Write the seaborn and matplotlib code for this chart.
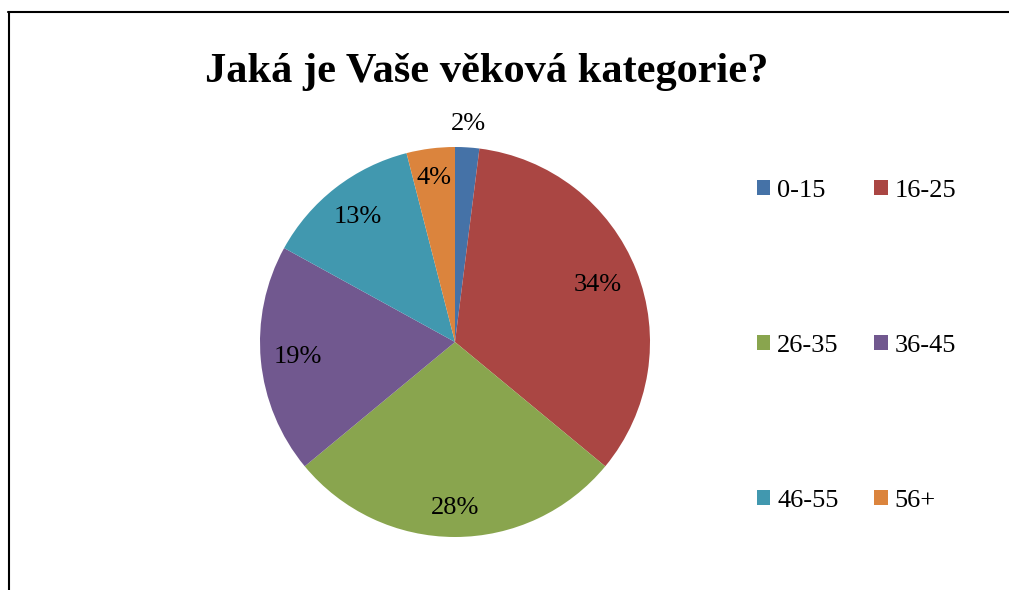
import matplotlib
matplotlib.use("Agg")
import matplotlib.pyplot as plt
from matplotlib.lines import Line2D
from matplotlib.patches import Patch
import seaborn as sns
import numpy as np

categories = ["0-15", "16-25", "26-35", "36-45", "46-55", "56+"]
values = [2, 34, 28, 19, 13, 4]
colors = ["#4572A7", "#AA4643", "#89A54E", "#71588F", "#4198AF", "#DB843D"]
title = "Jaká je Vaše věková kategorie?"
label_dist = [1.12, 0.79, 0.85, 0.81, 0.81, 0.85]

sns.set_theme(style="white")
plt.rcParams["font.family"] = ["Liberation Serif", "DejaVu Serif"]
plt.rcParams["text.color"] = "black"

fig = plt.figure(figsize=(10.09, 5.90), dpi=100)
ax = fig.add_axes([260 / 1009, 53 / 590, 390 / 1009, 390 / 590])

wedges, texts, autotexts = ax.pie(
    values, colors=colors, startangle=90, counterclock=False,
    autopct=lambda p: f"{p:.0f}%", pctdistance=0.81,
    wedgeprops=dict(linewidth=0), textprops=dict(fontsize=19, color="black"),
)
ax.set_aspect("equal")
ax.set_xlim(-1, 1)
ax.set_ylim(-1, 1)

for w, t, d in zip(wedges, autotexts, label_dist):
    ang = np.deg2rad((w.theta1 + w.theta2) / 2)
    t.set_position((d * np.cos(ang), d * np.sin(ang)))

fig.text(487 / 1009, 1 - 72 / 590, title, ha="center", va="center",
         fontsize=30.5, fontweight="bold", color="black")

order = [0, 2, 4, 1, 3, 5]
handles = [Patch(facecolor=colors[i], edgecolor="none") for i in order]
labels = [categories[i] for i in order]
fig.legend(handles, labels, ncol=2, loc="center left",
           bbox_to_anchor=(757 / 1009, 1 - 346 / 590), frameon=False,
           fontsize=19, handlelength=0.5, handleheight=0.5,
           handletextpad=0.27, labelspacing=5.05, columnspacing=1.35,
           borderpad=0, borderaxespad=0)

# partial chart frame (top and left)
fig.add_artist(Line2D([8 / 1009, 1.0], [1 - 12 / 590, 1 - 12 / 590],
                      transform=fig.transFigure, color="black", linewidth=1.5))
fig.add_artist(Line2D([9 / 1009, 9 / 1009], [1 - 12 / 590, 0.0],
                      transform=fig.transFigure, color="black", linewidth=1.5))

fig.savefig("out.png", dpi=100)
